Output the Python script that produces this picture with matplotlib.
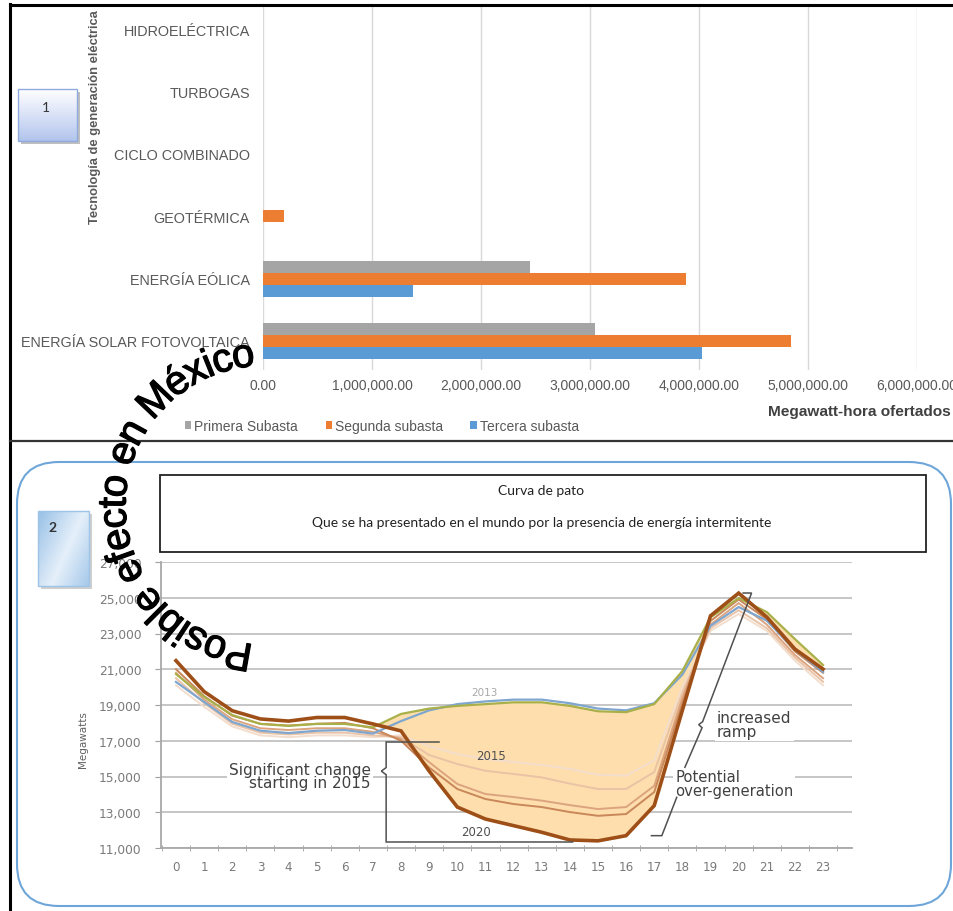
import numpy as np
import matplotlib
matplotlib.use("Agg")
import matplotlib.pyplot as plt
import matplotlib.patheffects as pe
from matplotlib.patches import FancyBboxPatch, Rectangle
from matplotlib.font_manager import FontProperties, findfont, get_font

W, H = 954, 912

# ---------------- data: top chart (subastas) ----------------
categorias = ["ENERGÍA SOLAR FOTOVOLTAICA", "ENERGÍA EÓLICA", "GEOTÉRMICA",
              "CICLO COMBINADO", "TURBOGAS", "HIDROELÉCTRICA"]
primera_subasta = [3045000, 2454000, 0, 0, 0, 0]
segunda_subasta = [4844000, 3885000, 196000, 0, 0, 0]
tercera_subasta = [4026000, 1379000, 0, 0, 0, 0]
series_top = ["Primera Subasta", "Segunda subasta", "Tercera subasta"]
colores_top = ["#A5A5A5", "#ED7D31", "#5B9BD5"]
ticks_top = [0, 1000000, 2000000, 3000000, 4000000, 5000000, 6000000]

# ---------------- data: duck curve ----------------
horas = list(range(24))
mw_2012 = [20290, 19170, 18050, 17560, 17430, 17560, 17600, 17400, 18100, 18700, 19050, 19200,
           19300, 19300, 19100, 18800, 18700, 19100, 20700, 23430, 24480, 23720, 22100, 20850]
mw_2013 = [20730, 19450, 18440, 17940, 17830, 17940, 17940, 17750, 18500, 18800, 18950, 19050,
           19150, 19150, 18950, 18650, 18600, 19050, 20900, 23900, 24980, 24200, 22690, 21240]
mw_2015 = [20100, 18900, 17800, 17300, 17200, 17300, 17300, 17200, 17300, 16700, 16250, 15980,
           15810, 15650, 15420, 15100, 15050, 15900, 20000, 23150, 24090, 23150, 21480, 20100]
mw_2016 = [20500, 19100, 17950, 17450, 17350, 17450, 17450, 17300, 17200, 16200, 15700, 15320,
           15140, 14950, 14600, 14300, 14300, 15250, 19700, 23300, 24300, 23300, 21650, 20300]
mw_2017 = [20800, 19300, 18200, 17700, 17600, 17700, 17700, 17500, 17100, 15800, 14580, 14020,
           13850, 13650, 13400, 13180, 13290, 14480, 19400, 23500, 24700, 23500, 21800, 20500]
mw_2018 = [21000, 19500, 18400, 17950, 17850, 17950, 18000, 17700, 17000, 15500, 14300, 13740,
           13460, 13290, 13010, 12800, 12900, 14130, 19100, 23700, 24900, 23800, 22000, 20800]
mw_2020 = [21480, 19750, 18680, 18220, 18100, 18300, 18300, 17940, 17550, 15300, 13290, 12620,
           12250, 11880, 11450, 11400, 11690, 13370, 18700, 23990, 25260, 23920, 22130, 21010]
ticks_mw = [11000, 13000, 15000, 17000, 19000, 21000, 23000, 25000, 27000]

texto_curvo = "Posible efecto en México"

fig = plt.figure(figsize=(W / 100, H / 100), dpi=100)
fig.patch.set_facecolor("white")


def px_axes(x0, y0, x1, y1):
    return fig.add_axes([x0 / W, 1 - y1 / H, (x1 - x0) / W, (y1 - y0) / H])


# ======================= TOP BAR CHART =======================
ax1 = px_axes(263, 7, 916.7, 371)
ypos = np.arange(len(categorias))
bh = 0.192
for vals, off, col, name in zip([primera_subasta, segunda_subasta, tercera_subasta],
                                [bh, 0, -bh], colores_top, series_top):
    ax1.barh(ypos + off, vals, height=bh, color=col, label=name, zorder=2)
ax1.set_xlim(0, 6000000)
ax1.set_ylim(-0.465, 5.37)
ax1.set_yticks(ypos, categorias)
ax1.set_xticks(ticks_top, [f"{v:,.2f}" for v in ticks_top])
ax1.tick_params(axis="y", length=0, pad=9.5, labelsize=10.4, labelcolor="#595959")
ax1.tick_params(axis="x", length=0, pad=6, labelsize=10, labelcolor="#595959")
for lab in ax1.get_yticklabels() + ax1.get_xticklabels():
    lab.set_fontfamily("Liberation Sans")
ax1.grid(axis="x", color="#D9D9D9", lw=1)
ax1.set_axisbelow(True)
for s in ax1.spines.values():
    s.set_visible(False)
ax1.set_xlabel("Megawatt-hora ofertados", fontsize=11.1, fontweight="bold",
               color="#404040", family="Liberation Sans", ha="right", va="center")
ax1.xaxis.set_label_coords(1.052, -0.113)
ax1.set_ylabel("Tecnología de generación eléctrica", fontsize=9.3, fontweight="bold",
               color="#595959", family="Liberation Sans", va="center")
ax1.yaxis.set_label_coords((95 - 263) / 653.7, (371 - 117) / 364)
leg = ax1.legend(loc="center left", bbox_to_anchor=(185 / W, 1 - 427 / H),
                 bbox_transform=fig.transFigure, ncol=3, frameon=False,
                 handlelength=0.45, handleheight=0.45, handletextpad=0.2,
                 columnspacing=2.0, borderpad=0, borderaxespad=0,
                 prop=FontProperties(family="Liberation Sans", size=10))
for t in leg.get_texts():
    t.set_color("#595959")

# ======================= DUCK CURVE =======================
ax2 = px_axes(161, 563, 852, 849)
series_duck = [mw_2015, mw_2016, mw_2017, mw_2018, mw_2012, mw_2013, mw_2020]
colores_duck = ["#F3DDCC", "#EAC3A6", "#DCA47E", "#C9875A", "#7FA6CF", "#A9B04A", "#9E4F18"]
anchos = [1.4, 1.4, 1.4, 1.4, 1.6, 1.6, 2.6]
h = np.array(horas)
ax2.fill_between(h, mw_2013, mw_2020, where=np.array(mw_2013) > np.array(mw_2020),
                 interpolate=True, color="#FDDEAC", lw=0, zorder=1.5)
for vals, col, lw in zip(series_duck, colores_duck, anchos):
    ax2.plot(h, vals, color=col, lw=lw, zorder=3, solid_joinstyle="miter")
ax2.set_xlim(-0.533, 24.03)
ax2.set_ylim(11000, 27000)
ax2.set_yticks(ticks_mw, [f"{v:,}" for v in ticks_mw])
ax2.set_xticks(horas, [str(v) for v in horas])
ax2.set_xticks(np.arange(-0.5, 24, 1), minor=True)
ax2.tick_params(axis="y", length=4, color="#A0A0A0", pad=10, labelsize=8.8, labelcolor="#7A7A7A")
ax2.tick_params(axis="x", which="major", length=0, pad=9, labelsize=8.6, labelcolor="#7A7A7A")
ax2.tick_params(axis="x", which="minor", length=5, direction="inout", color="#A0A0A0")
ax2.grid(axis="y", color="#C6C6C6", lw=1.4)
ax2.set_axisbelow(True)
for k in ["top", "right"]:
    ax2.spines[k].set_visible(False)
for k in ["left", "bottom"]:
    ax2.spines[k].set_color("#A8A8A8")
    ax2.spines[k].set_linewidth(1.3)
ax2.set_ylabel("Megawatts", fontsize=7.5, color="#606060")
ax2.yaxis.set_label_coords((88 - 161) / 691, (849 - 740) / 286)

# annotations inside duck chart
ax2.text(10.95, 19700, "2013", fontsize=7.5, color="#A8A8A8", ha="center", va="center", zorder=4)
ax2.text(11.2, 16200, "2015", fontsize=8.5, color="#505050", ha="center", va="center", zorder=4)
ax2.text(10.66, 11950, "2020", fontsize=8.5, color="#505050", ha="center", va="center", zorder=4)
wb = dict(facecolor="white", edgecolor="none", pad=1.5)
ax2.text(6.93, 15030, "Significant change\nstarting in 2015", fontsize=11, color="#404040",
         ha="right", va="center", multialignment="right", linespacing=0.9, bbox=wb, zorder=2.5)
ax2.text(19.23, 17900, "increased\nramp", fontsize=11, color="#404040",
         ha="left", va="center", linespacing=0.9, bbox=wb, zorder=2.5)
ax2.text(17.74, 14600, "Potential\nover-generation", fontsize=10.6, color="#404040",
         ha="left", va="center", linespacing=0.9, bbox=wb, zorder=2.5)
bk = dict(color="#505050", lw=1.1, zorder=4, solid_joinstyle="miter")
ax2.plot([9.35, 7.47, 7.47, 7.3, 7.47, 7.47, 14.1],
         [16930, 16930, 15500, 15300, 15100, 11336, 11336], **bk)
ax2.plot([20.16, 20.46, 18.72, 18.58, 18.70, 18.09],
         [25265, 25265, 18065, 17900, 17730, 15515], **bk)
ax2.plot([17.8, 17.27, 16.9], [13836, 11690, 11690], **bk)

# ======================= OVERLAY (frames, boxes, curved text) =======================
ov = fig.add_axes([0, 0, 1, 1], zorder=10)
ov.set_facecolor("none")
ov.axis("off")

# outer frame
ov.plot([10, 954], [6, 6], color="black", lw=2.2)
ov.plot([10.5, 10.5], [5, 912], color="black", lw=2.2)
ov.plot([10, 954], [441.5, 441.5], color="#333333", lw=1.6)

# rounded blue frame and title box
ov.add_patch(FancyBboxPatch((17, 463), 934, 444, boxstyle="round,pad=0,rounding_size=42",
                            fc="none", ec="#6FA6DA", lw=1.5))
ov.add_patch(Rectangle((160, 476), 766, 77, fc="white", ec="#222222", lw=1.3, zorder=1))
ov.text(541, 491, "Curva de pato", fontsize=10, family="Lato", ha="center", va="center",
        color="#222222")
ov.text(542, 523, "Que se ha presentado en el mundo por la presencia de energía intermitente",
        fontsize=10, family="Lato", ha="center", va="center", color="#222222")

# box 1
ov.add_patch(Rectangle((21, 93), 59, 52, fc="#8C8C8C", ec="none", alpha=0.55, zorder=2))
g = np.linspace(0, 1, 120)[:, None, None]
img1 = np.array([1, 1, 1]) * (1 - g) + np.array([0.70, 0.77, 0.93]) * g
ov.imshow(img1, extent=(18, 77, 142, 90), aspect="auto", origin="upper", zorder=3)
ov.add_patch(Rectangle((18, 90), 59, 52, fc="none", ec="#8FAADC", lw=1, zorder=4))
ov.text(46, 108, "1", fontsize=10, ha="center", va="center", color="#333333", family="Lato",
        zorder=5)

# box 2
ov.add_patch(Rectangle((41, 515), 51, 75, fc="#A0A0A0", ec="none", alpha=0.5, zorder=2))
u = np.linspace(0, 1, 80)[None, :]
v = np.linspace(0, 1, 120)[:, None]
f = np.clip(np.abs((u * 0.6 + v * 0.4) - 0.55) * 2.0, 0, 1)[..., None]
img2 = np.array([0.90, 0.94, 0.98]) * (1 - f) + np.array([0.62, 0.77, 0.91]) * f
ov.imshow(img2, extent=(38, 89, 587, 512), aspect="auto", origin="upper", zorder=3)
ov.add_patch(Rectangle((38, 512), 51, 75, fc="none", ec="#9DC3E6", lw=1, zorder=4))
ov.text(53, 528, "2", fontsize=10, ha="center", va="center", color="#333333",
        family="Lato", fontweight="bold", zorder=5)

# curved text along a circular arc (letters face outward)
fs = 29
fp_curve = FontProperties(family="Liberation Sans", size=fs)
font = get_font(findfont(fp_curve))
font.set_size(fs, 72)
adv = [font.load_char(ord(c)).linearHoriAdvance / 65536 * 100 / 72 for c in texto_curvo]
cx, cy = 265.0, 506.0
r_mid = 150.0          # radius through the middle of the lowercase letters
r_base = r_mid - 10.5  # baseline radius
theta = np.radians(265.1)
pos = 0.0
for ch, a in zip(texto_curvo, adv):
    tc = theta - (pos + a / 2) / r_mid
    x = cx + r_base * np.cos(tc)
    y = cy - r_base * np.sin(tc)
    rot = np.degrees(tc) - 90
    ov.text(x, y, ch, fontproperties=fp_curve, rotation=rot, rotation_mode="anchor",
            ha="center", va="baseline", color="black", zorder=20,
            path_effects=[pe.withStroke(linewidth=0.9, foreground="black")])
    pos += a

ov.set_xlim(0, W)
ov.set_ylim(H, 0)

fig.savefig("out.png", dpi=100)
